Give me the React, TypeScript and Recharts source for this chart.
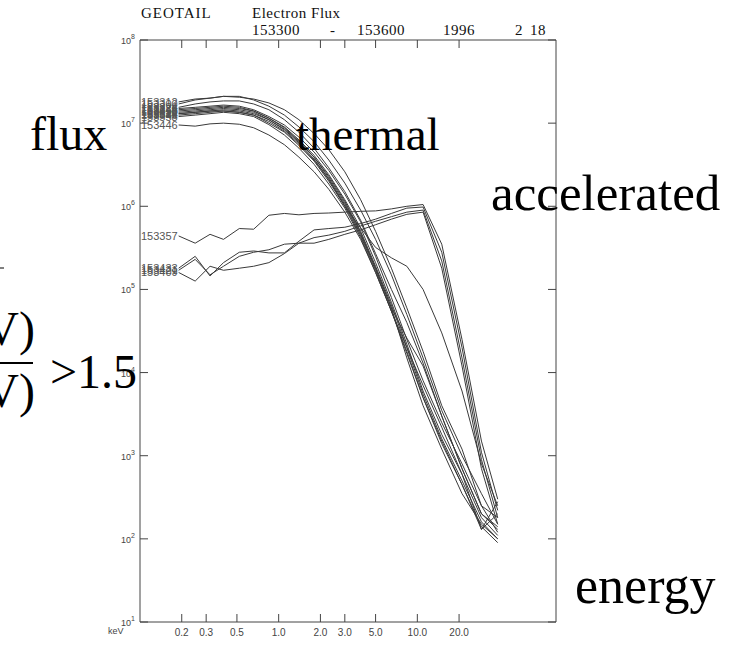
import React from "react";
import { LineChart, Line, XAxis, YAxis } from "recharts";

// energy channels (keV)
const ENERGY_KEV = [
  0.19, 0.25, 0.32, 0.4, 0.52, 0.66, 0.85, 1.1, 1.4, 1.8, 2.3, 3.0, 3.9, 5.0,
  6.5, 8.4, 11, 15, 21, 29, 38,
];

// thermal spectra
const F153300 = [1.7e7, 1.9e7, 2.0e7, 2.1e7, 2.05e7, 1.95e7, 1.75e7, 1.45e7, 1.1e7, 7.5e6, 4.8e6, 2.6e6, 1.2e6, 5e5, 1.8e5, 6e4, 1.8e4, 4e3, 1.2e3, 2.5e2, 1.8e2];
const F153312 = [1.8e7, 1.95e7, 2.0e7, 2.1e7, 2.1e7, 1.9e7, 1.6e7, 1.25e7, 9e6, 6e6, 3.6e6, 1.9e6, 9e5, 4e5, 1.5e5, 5e4, 1.5e4, 3.5e3, 1e3, 3.5e2, 1.5e2];
const F153324 = [1.55e7, 1.7e7, 1.8e7, 1.85e7, 1.85e7, 1.7e7, 1.45e7, 1.1e7, 7.8e6, 5e6, 2.9e6, 1.5e6, 6.8e5, 2.7e5, 1e5, 4e4, 1.3e4, 3e3, 7e2, 2e2, 1.3e2];
const F153336 = [1.5e7, 1.55e7, 1.6e7, 1.65e7, 1.6e7, 1.45e7, 1.2e7, 9.5e6, 6.8e6, 4.5e6, 2.7e6, 1.4e6, 6.5e5, 2.5e5, 8e4, 2.5e4, 8e3, 2.5e3, 8e2, 2.5e2, 1.2e2];
const F153348 = [1.45e7, 1.5e7, 1.55e7, 1.6e7, 1.55e7, 1.4e7, 1.15e7, 8.8e6, 6.1e6, 3.9e6, 2.2e6, 1.1e6, 4.8e5, 1.8e5, 6e4, 1.5e4, 4e3, 1.2e3, 3.5e2, 1.5e2, 1e2];
const F153446 = [9.5e6, 9.2e6, 9.8e6, 1.0e7, 9.7e6, 8.8e6, 7.2e6, 5.5e6, 3.9e6, 2.6e6, 1.6e6, 8.5e5, 4e5, 1.6e5, 5.5e4, 1.8e4, 5e3, 1.5e3, 4.5e2, 1.4e2, 9e1];
const F153458 = [1.4e7, 1.45e7, 1.5e7, 1.55e7, 1.5e7, 1.4e7, 1.15e7, 9e6, 6.3e6, 4.1e6, 2.4e6, 1.2e6, 5.5e5, 2.1e5, 7e4, 2.2e4, 6e3, 1.8e3, 6e2, 1.3e2, 2.8e2];
const F153510 = [1.35e7, 1.4e7, 1.45e7, 1.5e7, 1.45e7, 1.35e7, 1.1e7, 8.5e6, 6e6, 3.9e6, 2.3e6, 1.15e6, 5e5, 1.9e5, 6.5e4, 2e4, 5.5e3, 1.6e3, 5e2, 1.6e2, 1e2];
const F153522 = [1.3e7, 1.35e7, 1.4e7, 1.45e7, 1.4e7, 1.3e7, 1.1e7, 8.3e6, 5.8e6, 3.7e6, 2.1e6, 1.0e6, 5.5e5, 3.2e5, 2.4e5, 1.9e5, 1e5, 3e4, 6e3, 8e2, 2.5e2];
const F153534 = [1.3e7, 1.35e7, 1.4e7, 1.4e7, 1.35e7, 1.25e7, 1.05e7, 8e6, 5.6e6, 3.6e6, 2.1e6, 1.05e6, 4.6e5, 1.8e5, 6e4, 2.6e4, 1.2e4, 3e3, 7e2, 2e2, 1.4e2];
const F153546 = [1.25e7, 1.3e7, 1.35e7, 1.4e7, 1.35e7, 1.25e7, 1.0e7, 7.8e6, 5.4e6, 3.5e6, 2e6, 1e6, 4.4e5, 1.7e5, 5.5e4, 1.7e4, 5e3, 1.4e3, 4.5e2, 1.3e2, 2e2];
const F153558 = [1.2e7, 1.25e7, 1.3e7, 1.35e7, 1.3e7, 1.2e7, 9.6e6, 7.2e6, 5e6, 3.2e6, 1.85e6, 9.5e5, 4.2e5, 1.6e5, 5.5e4, 2e4, 7e3, 2.2e3, 6e2, 1.8e2, 1.1e2];

// accelerated spectra
const F153357 = [4.4e5, 3.6e5, 4.6e5, 4.0e5, 5.4e5, 5.3e5, 7.8e5, 8.2e5, 7.9e5, 8.2e5, 8.3e5, 8.5e5, 8.7e5, 8.8e5, 9.3e5, 1.0e6, 1.05e6, 3.5e5, 2.5e4, 1.5e3, 3e2];
const F153409 = [1.6e5, 1.26e5, 1.9e5, 1.7e5, 1.8e5, 1.9e5, 2.1e5, 2.7e5, 3.6e5, 4.2e5, 4.5e5, 5e5, 5.8e5, 6.6e5, 7.5e5, 8.5e5, 9e5, 2.2e5, 1.5e4, 9e2, 1.8e2];
const F153421 = [1.7e5, 2.3e5, 1.5e5, 1.9e5, 2.5e5, 2.8e5, 3e5, 3.5e5, 3.6e5, 3.6e5, 4e5, 4.6e5, 5.2e5, 6e5, 7e5, 8e5, 8.5e5, 1.8e5, 1.2e4, 7e2, 1.5e2];
const F153433 = [1.8e5, 2.5e5, 1.45e5, 2.1e5, 2.8e5, 2.9e5, 2.75e5, 2.75e5, 3.8e5, 5.2e5, 5.4e5, 5.6e5, 6.2e5, 7e5, 8.2e5, 9.5e5, 9.8e5, 2.8e5, 2e4, 1.1e3, 2.2e2];

const SERIES = [
  { name: "153300", values: F153300 },
  { name: "153312", values: F153312 },
  { name: "153324", values: F153324 },
  { name: "153336", values: F153336 },
  { name: "153348", values: F153348 },
  { name: "153446", values: F153446 },
  { name: "153458", values: F153458 },
  { name: "153510", values: F153510 },
  { name: "153522", values: F153522 },
  { name: "153534", values: F153534 },
  { name: "153546", values: F153546 },
  { name: "153558", values: F153558 },
  { name: "153357", values: F153357 },
  { name: "153409", values: F153409 },
  { name: "153421", values: F153421 },
  { name: "153433", values: F153433 },
];

const X_TICKS = [0.2, 0.3, 0.5, 1, 2, 3, 5, 10, 20];
const X_TICK_LABELS = ["0.2", "0.3", "0.5", "1.0", "2.0", "3.0", "5.0", "10.0", "20.0"];
const Y_TICKS = [10, 100, 1e3, 1e4, 1e5, 1e6, 1e7, 1e8];
const Y_TICK_EXP = ["1", "2", "3", "4", "5", "6", "7", "8"];

const rows = ENERGY_KEV.map((e, i) => {
  const r: Record<string, number> = { e };
  SERIES.forEach((s) => (r[s.name] = s.values[i]));
  return r;
});

// plot box in page pixels
const L = 140, R = 556, T = 40, B = 622;
const AX = "#444";
const SERIF = "'Liberation Serif', 'Times New Roman', serif";
const SANS = "'Liberation Sans', Arial, sans-serif";

const BottomTick = (p: any) => {
  const i = X_TICKS.indexOf(p.payload.value);
  return (
    <g>
      <line x1={p.x} x2={p.x} y1={B} y2={B - 8} stroke={AX} />
      <text x={p.x} y={636} textAnchor="middle" fontSize={10} fontFamily={SANS} fill="#444">
        {X_TICK_LABELS[i]}
      </text>
    </g>
  );
};

const TopTick = (p: any) => (
  <line x1={p.x} x2={p.x} y1={T} y2={T + 8} stroke={AX} />
);

const LeftTick = (p: any) => {
  const i = Y_TICKS.indexOf(p.payload.value);
  return (
    <g>
      <line x1={L} x2={L + 8} y1={p.y} y2={p.y} stroke={AX} />
      <text x={121} y={p.y + 4} fontSize={9} fontFamily={SANS} fill="#444">
        10
        <tspan dy={-5} fontSize={7}>{Y_TICK_EXP[i]}</tspan>
      </text>
    </g>
  );
};

const RightTick = (p: any) => (
  <line x1={R} x2={R - 8} y1={p.y} y2={p.y} stroke={AX} />
);

const startLabel = (name: string) => (p: any) => {
  if (p.index !== 0) return <g key={`d-${name}-${p.index}`} />;
  return (
    <text
      key={`d-${name}-0`}
      x={p.cx - 1}
      y={p.cy + 4}
      textAnchor="end"
      fontSize={11}
      fontFamily={SANS}
      fill="#555"
    >
      {name}
    </text>
  );
};

export default function App() {
  return (
    <div style={{ position: "absolute", left: 0, top: 0, width: 730, height: 645, background: "#fff" }}>
      <LineChart
        width={730}
        height={645}
        data={rows}
        margin={{ top: T - 10, right: 730 - R - 20, bottom: 645 - B - 20, left: L - 20 }}
      >
        <XAxis
          xAxisId="bottom"
          dataKey="e"
          type="number"
          scale="log"
          domain={[0.1, 100]}
          allowDataOverflow
          ticks={X_TICKS}
          interval={0}
          height={20}
          tick={<BottomTick />}
          tickLine={false}
          axisLine={{ stroke: AX }}
        />
        <XAxis
          xAxisId="top"
          orientation="top"
          dataKey="e"
          type="number"
          scale="log"
          domain={[0.1, 100]}
          allowDataOverflow
          ticks={X_TICKS}
          interval={0}
          height={10}
          tick={<TopTick />}
          tickLine={false}
          axisLine={{ stroke: AX }}
        />
        <YAxis
          yAxisId="left"
          type="number"
          scale="log"
          domain={[10, 1e8]}
          allowDataOverflow
          ticks={Y_TICKS}
          interval={0}
          width={20}
          tick={<LeftTick />}
          tickLine={false}
          axisLine={{ stroke: AX }}
        />
        <YAxis
          yAxisId="right"
          orientation="right"
          type="number"
          scale="log"
          domain={[10, 1e8]}
          allowDataOverflow
          ticks={Y_TICKS}
          interval={0}
          width={20}
          tick={<RightTick />}
          tickLine={false}
          axisLine={{ stroke: AX }}
        />
        {SERIES.map((s) => (
          <Line
            key={s.name}
            xAxisId="bottom"
            yAxisId="left"
            type="linear"
            dataKey={s.name}
            stroke="#3a3a3a"
            strokeWidth={1}
            dot={startLabel(s.name)}
            activeDot={false}
            isAnimationActive={false}
          />
        ))}
      </LineChart>

      <svg
        width={730}
        height={645}
        style={{ position: "absolute", left: 0, top: 0, pointerEvents: "none" }}
      >
        <g fontFamily={SERIF} fill="#111" fontSize={15}>
          <text x={141} y={18} letterSpacing={1}>GEOTAIL</text>
          <text x={252} y={18} letterSpacing={0.5}>Electron Flux</text>
          <text x={252} y={35} letterSpacing={0.5}>153300</text>
          <text x={330} y={35}>-</text>
          <text x={357} y={35} letterSpacing={0.5}>153600</text>
          <text x={443} y={35} letterSpacing={0.5}>1996</text>
          <text x={515} y={35}>2</text>
          <text x={530} y={35} letterSpacing={0.5}>18</text>
        </g>
        <text x={108} y={634} fontSize={9} fontFamily={SANS} fill="#444">keV</text>
        <g fontFamily={SERIF} fill="#000">
          <text x={30} y={150} fontSize={48}>flux</text>
          <text x={296} y={150} fontSize={47}>thermal</text>
          <text x={491} y={210} fontSize={51}>accelerated</text>
          <text x={575} y={603} fontSize={52}>energy</text>
          <text x={50} y={388} fontSize={48}>&gt;1.5</text>
          <text x={35} y={345} fontSize={48} textAnchor="end">V)</text>
          <text x={35} y={407} fontSize={48} textAnchor="end">V)</text>
        </g>
        <line x1={0} x2={33} y1={363} y2={363} stroke="#000" strokeWidth={2} />
        <line x1={0} x2={4} y1={268} y2={268} stroke="#000" strokeWidth={1} />
      </svg>
    </div>
  );
}
